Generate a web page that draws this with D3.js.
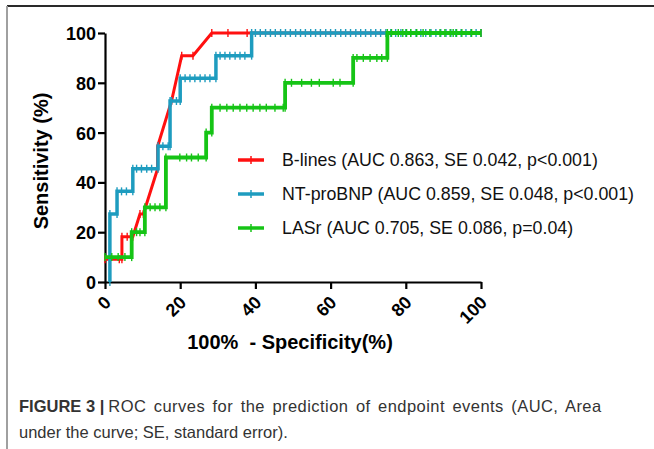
<!DOCTYPE html>
<html>
<head>
<meta charset="utf-8">
<script src="https://cdn.jsdelivr.net/npm/d3@7"></script>
<style>
  body { margin: 0; background: #fff; }
  svg { display: block; font-family: Arial, "Liberation Sans", sans-serif; }
</style>
</head>
<body>
<svg id="chart" width="654" height="449"></svg>
<script>
// ROC points: [100% - specificity, sensitivity]
const bLines = [
  [0, 9.1], [3.8, 9.1], [4.5, 9.1], [4.5, 18.2], [5.9, 18.2], [7.4, 18.2],
  [9.3, 27.3], [10.2, 27.3], [14, 45.5], [14, 54.5], [17.7, 72.7], [20.4, 90.9], [23.4, 90.9],
  [28.4, 100], [32.7, 100], [37.8, 100], [100, 100]
];
const ntProBNP = [
  [1.3, 0], [1.3, 27.3], [3.2, 27.3], [3.2, 36.4], [4.4, 36.4], [5.7, 36.4], [7.4, 36.4],
  [7.4, 45.5], [8.4, 45.5], [9.7, 45.5], [11.1, 45.5], [12.4, 45.5], [14.1, 45.5],
  [14.1, 54.5], [15.4, 54.5], [16.8, 54.5], [17.3, 54.5],
  [17.3, 72.7], [17.7, 72.7], [19, 72.7], [20, 72.7],
  [20, 81.8], [21.3, 81.8], [22.6, 81.8], [23.9, 81.8], [25.3, 81.8], [26.6, 81.8], [27.9, 81.8], [29.5, 81.8],
  [29.5, 90.9], [30.6, 90.9], [31.9, 90.9], [33.2, 90.9], [34.6, 90.9], [35.9, 90.9], [37.2, 90.9], [39, 90.9],
  [39, 100], [40, 100], [41.3, 100], [42.7, 100], [44, 100], [45.3, 100], [46.7, 100], [48, 100],
  [49.3, 100], [50.7, 100], [52, 100], [53.3, 100], [54.7, 100], [56, 100], [57.3, 100], [58.7, 100],
  [60, 100], [61.3, 100], [62.7, 100], [64, 100], [65.3, 100], [66.7, 100], [68, 100], [69.3, 100],
  [70.7, 100], [72, 100], [73.3, 100], [74.7, 100], [76, 100], [77.3, 100], [78.7, 100], [80, 100],
  [81.3, 100], [82.7, 100], [84, 100], [85.3, 100], [86.7, 100], [88, 100], [89.3, 100], [90.7, 100],
  [92, 100], [93.3, 100], [94.7, 100], [96, 100], [97.3, 100], [98.7, 100], [100, 100]
];
const lasr = [
  [0, 10], [1.8, 10], [3.5, 10], [5.3, 10], [7.1, 10],
  [7.1, 20], [8.4, 20], [9.3, 20], [10.6, 20],
  [10.6, 30], [12, 30], [13.3, 30], [14.6, 30], [16.2, 30],
  [16.2, 50], [19.9, 50], [21.7, 50], [23, 50], [24.8, 50], [26.9, 50],
  [26.9, 60], [28.4, 60],
  [28.4, 70], [30.6, 70], [32.4, 70], [34.1, 70], [35.9, 70], [37.7, 70], [39.4, 70],
  [41.2, 70], [42.9, 70], [45.2, 70], [47.4, 70], [47.9, 70],
  [47.9, 80], [49.6, 80], [52.3, 80], [54.9, 80], [57, 80], [60.7, 80], [62.5, 80], [66, 80],
  [66, 90], [67, 90], [68.7, 90], [70.5, 90], [72.3, 90], [73.6, 90], [75.1, 90],
  [75.1, 100], [76.2, 100], [78, 100], [79.2, 100], [80.2, 100], [81.3, 100], [82.9, 100],
  [84.6, 100], [86.4, 100], [89.1, 100], [90.4, 100], [91.8, 100], [92.6, 100], [93.5, 100],
  [94.9, 100], [97.5, 100], [100, 100]
];

const seriesNames = [
  "B-lines (AUC 0.863, SE 0.042, p<0.001)",
  "NT-proBNP (AUC 0.859, SE 0.048, p<0.001)",
  "LASr (AUC 0.705, SE 0.086, p=0.04)"
];
const seriesColors = ["#ff1010", "#1e9cbf", "#16c416"];
const xTicks = [0, 20, 40, 60, 80, 100];
const yTicks = [0, 20, 40, 60, 80, 100];

const svg = d3.select("#chart");

// figure frame (top rule + left rule)
svg.append("line").attr("x1", 7).attr("x2", 654).attr("y1", 6).attr("y2", 6)
  .attr("stroke", "#2a2a2a").attr("stroke-width", 2);
svg.append("line").attr("x1", 7).attr("x2", 7).attr("y1", 6).attr("y2", 449)
  .attr("stroke", "#a0a0a0").attr("stroke-width", 2);

const x = d3.scaleLinear().domain([0, 100]).range([105, 481]);
const y = d3.scaleLinear().domain([0, 100]).range([282, 33]);

// axes
const xAxis = svg.append("g").attr("transform", "translate(0,282)")
  .call(d3.axisBottom(x).tickValues(xTicks).tickSize(7).tickSizeOuter(0).tickFormat(""));
const yAxis = svg.append("g").attr("transform", "translate(105,0)")
  .call(d3.axisLeft(y).tickValues(yTicks).tickSize(7).tickSizeOuter(0).tickFormat(""));
[xAxis, yAxis].forEach(g => {
  g.select(".domain").attr("stroke", "#000").attr("stroke-width", 2.2);
  g.selectAll(".tick line").attr("stroke", "#000").attr("stroke-width", 2.2);
});

yAxis.selectAll(".tick").append("text")
  .attr("x", -9).attr("dy", "0.36em")
  .attr("text-anchor", "end").attr("font-size", 18).attr("font-weight", "bold")
  .attr("fill", "#000")
  .text(d => d);

xAxis.selectAll(".tick").append("text")
  .attr("transform", "translate(2,17) rotate(-45)")
  .attr("dy", "0.36em")
  .attr("text-anchor", "end").attr("font-size", 18).attr("font-weight", "bold")
  .attr("fill", "#000")
  .text(d => d);

svg.append("text")
  .attr("transform", "translate(48,161) rotate(-90)")
  .attr("text-anchor", "middle").attr("font-size", 20).attr("font-weight", "bold")
  .text("Sensitivity (%)");

svg.append("text")
  .attr("x", 290).attr("y", 349)
  .attr("text-anchor", "middle").attr("font-size", 20).attr("font-weight", "bold")
  .attr("xml:space", "preserve")
  .text("100%  - Specificity(%)");

// curves
const line = d3.line().x(d => x(d[0])).y(d => y(d[1])).curve(d3.curveLinear);
const allSeries = [bLines, ntProBNP, lasr];
const widths = [3, 3.5, 3.8];

allSeries.forEach((data, i) => {
  const g = svg.append("g");
  g.append("path")
    .datum(data)
    .attr("fill", "none")
    .attr("stroke", seriesColors[i])
    .attr("stroke-width", widths[i])
    .attr("stroke-linejoin", "miter")
    .attr("d", line);
  g.selectAll("line.mark")
    .data(data)
    .enter().append("line")
    .attr("class", "mark")
    .attr("x1", d => x(d[0])).attr("x2", d => x(d[0]))
    .attr("y1", d => y(d[1]) - 4).attr("y2", d => y(d[1]) + 4)
    .attr("stroke", seriesColors[i])
    .attr("stroke-width", 1.4);
});

// legend
const legendY = [160, 194, 228];
seriesNames.forEach((name, i) => {
  const g = svg.append("g").attr("transform", `translate(0,${legendY[i]})`);
  g.append("line").attr("x1", 238).attr("x2", 264).attr("y1", 0).attr("y2", 0)
    .attr("stroke", seriesColors[i]).attr("stroke-width", 3.5);
  g.append("line").attr("x1", 251).attr("x2", 251).attr("y1", -4).attr("y2", 4)
    .attr("stroke", seriesColors[i]).attr("stroke-width", 1.5);
  g.append("text").attr("x", 282).attr("dy", "0.36em")
    .attr("font-size", 17.8).attr("fill", "#111")
    .text(name);
});

// caption: first line is justified in the source, spread only the plain part
const caption = svg.append("g").attr("font-size", 16.5).attr("fill", "#333");
const cap1 = caption.append("text").attr("x", 19).attr("y", 412);
cap1.append("tspan").attr("font-weight", "bold").text("FIGURE 3 |");
const capRest = cap1.append("tspan").attr("dx", 4)
  .attr("letter-spacing", 0.45)
  .text("ROC curves for the prediction of endpoint events (AUC, Area");
const capRight = 602;
const restBox = capRest.node().getBBox();
const restSpaces = 9;
capRest.attr("word-spacing", Math.max(0, (capRight - (restBox.x + restBox.width)) / restSpaces));
caption.append("text").attr("x", 19).attr("y", 438)
  .text("under the curve; SE, standard error).");
</script>
</body>
</html>
